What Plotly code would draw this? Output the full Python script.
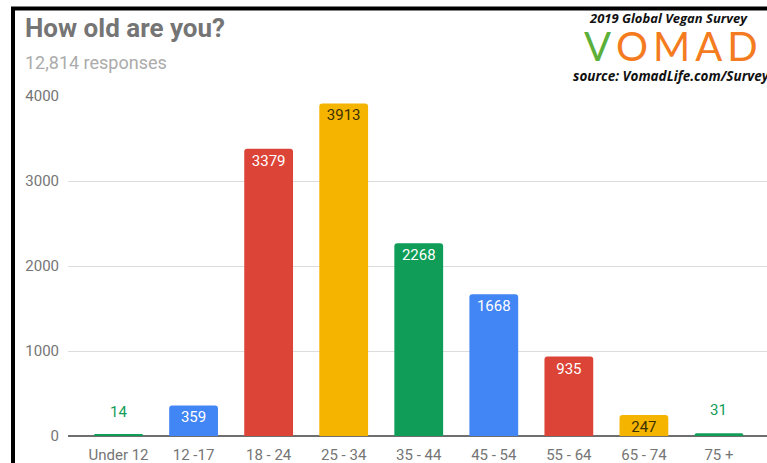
import plotly.graph_objects as go

categories = ["Under 12", "12 -17", "18 - 24", "25 - 34", "35 - 44", "45 - 54", "55 - 64", "65 - 74", "75 +"]
values = [14, 359, 3379, 3913, 2268, 1668, 935, 247, 31]
bar_colors = ["#0F9D58", "#4285F4", "#DB4437", "#F4B400", "#0F9D58", "#4285F4", "#DB4437", "#F4B400", "#0F9D58"]
label_colors = ["#0F9D58", "#FFFFFF", "#FFFFFF", "#3c3000", "#FFFFFF", "#FFFFFF", "#FFFFFF", "#3c3000", "#0F9D58"]
y_ticks = [0, 1000, 2000, 3000, 4000]

W, H = 767, 463
PL, PR, PT, PB = 68, 767, 96, 436  # plot area pixels

def px(x):
    return x / W

def py(y):
    return (H - y) / H

small = [v < 100 for v in values]
bar_text = ["" if s else str(v) for v, s in zip(values, small)]

fig = go.Figure()
fig.add_trace(go.Bar(
    x=list(range(len(categories))),
    y=values,
    marker=dict(color=bar_colors, line=dict(width=0), cornerradius=3),
    text=bar_text,
    textposition="inside",
    insidetextanchor="end",
    constraintext="none",
    textangle=0,
    textfont=dict(family="Roboto", size=15, color=label_colors),
    width=0.65,
    hoverinfo="skip",
))

annotations = []
for i, (v, s) in enumerate(zip(values, small)):
    if s:
        annotations.append(dict(
            x=i, y=v, xref="x", yref="y", text=str(v), showarrow=False,
            yanchor="bottom", yshift=12,
            font=dict(family="Roboto", size=15, color=label_colors[i]),
        ))

annotations += [
    dict(x=px(23), y=py(28.5), xref="paper", yref="paper", xanchor="left", yanchor="middle",
         text="<b>How old are you?</b>", showarrow=False,
         font=dict(family="Roboto", size=26, color="#757575")),
    dict(x=px(23), y=py(62), xref="paper", yref="paper", xanchor="left", yanchor="middle",
         text="12,814 responses", showarrow=False,
         font=dict(family="Roboto", size=18, color="#ababab")),
    dict(x=px(668), y=py(18), xref="paper", yref="paper", xanchor="center", yanchor="middle",
         text="<b><i>2019 Global Vegan Survey</i></b>", showarrow=False,
         font=dict(family="Open Sans", size=13, color="#111111")),
    dict(x=px(671), y=py(46), xref="paper", yref="paper", xanchor="center", yanchor="middle",
         text="<span style='color:#5cb03a'>V</span>\u2009O\u2009M\u2009A\u2009D", showarrow=False,
         font=dict(family="Lato", size=40, color="#F47B20")),
    dict(x=px(571), y=py(76), xref="paper", yref="paper", xanchor="left", yanchor="middle",
         text="<b><i>source: VomadLife.com/Survey</i></b>", showarrow=False,
         font=dict(family="Open Sans", size=13.5, color="#111111")),
]

shapes = [
    dict(type="line", xref="paper", yref="paper", x0=px(13), x1=px(13), y0=py(8), y1=0,
         line=dict(color="black", width=4)),
    dict(type="line", xref="paper", yref="paper", x0=px(11), x1=1, y0=py(8.5), y1=py(8.5),
         line=dict(color="black", width=4)),
]

fig.update_layout(
    width=W, height=H,
    autosize=False,
    margin=dict(l=0, r=0, t=0, b=0, autoexpand=False),
    paper_bgcolor="white", plot_bgcolor="white",
    showlegend=False,
    bargap=0.35,
    annotations=annotations,
    shapes=shapes,
    xaxis=dict(
        domain=[px(PL), px(PR)],
        range=[-0.673, 8.64],
        automargin=False,
        tickmode="array", tickvals=list(range(len(categories))), ticktext=categories,
        showgrid=False, zeroline=False, showline=False,
        ticks="outside", ticklen=5, tickcolor="rgba(0,0,0,0)",
        tickfont=dict(family="Roboto", size=15, color="#757575"),
    ),
    yaxis=dict(
        domain=[py(PB), py(PT)],
        range=[0, 4000],
        automargin=False,
        tickmode="array", tickvals=y_ticks, ticktext=[str(t) for t in y_ticks],
        showgrid=True, gridcolor="#dcdcdc", gridwidth=1,
        zeroline=True, zerolinecolor="#6e6e6e", zerolinewidth=2,
        showline=False,
        ticks="outside", ticklen=5, tickcolor="rgba(0,0,0,0)",
        tickfont=dict(family="Roboto", size=15, color="#757575"),
    ),
)

fig.write_html(
    "out.html",
    config={"displayModeBar": False, "responsive": False},
    post_script=(
        "document.documentElement.style.margin='0';"
        "document.documentElement.style.overflow='hidden';"
        "document.body.style.margin='0';"
        "document.body.style.overflow='hidden';"
    ),
)
